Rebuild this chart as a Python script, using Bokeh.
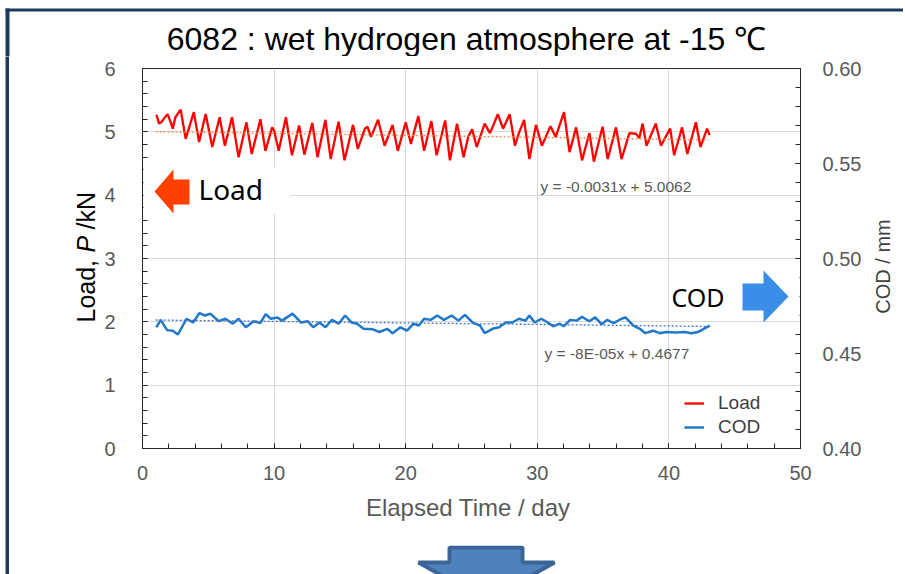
import math
from bokeh.plotting import figure
from bokeh.layouts import column, row, Spacer
from bokeh.models import (Range1d, LinearAxis, FixedTicker, Label, BoxAnnotation,
                          PolyAnnotation, Legend, LegendItem, PrintfTickFormatter)
from bokeh.embed import file_html
from bokeh.resources import INLINE

# ---------------- data ----------------
load_day = [1.06, 1.26, 1.46, 1.6, 1.9, 2.15, 2.3, 2.5, 2.9, 3.28, 3.9, 4.3, 4.8, 5.3, 5.86,
            6.26, 6.8, 7.3, 7.9, 8.3, 8.96, 9.34, 9.85, 10.0, 10.35, 10.9, 11.36, 11.9, 12.3,
            12.9, 13.3, 13.9, 14.3, 14.9, 15.35, 16.0, 16.36, 16.9, 17.1, 17.37, 17.9, 18.4,
            19.0, 19.4, 20.0, 20.4, 20.96, 21.4, 21.95, 22.35, 23.0, 23.36, 23.9, 24.4, 24.75,
            25.05, 25.4, 26.0, 26.4, 26.65, 27.0, 27.4, 27.9, 28.3, 28.6, 29.0, 29.4, 29.9,
            30.35, 31.0, 31.4, 32.03, 32.45, 32.95, 33.4, 33.96, 34.3, 34.96, 35.35, 35.98,
            36.4, 37.0, 37.5, 37.75, 38.0, 38.3, 39.0, 39.4, 39.7, 40.1, 40.4, 41.0, 41.4,
            42.05, 42.4, 42.9, 43.1]
load_kn = [5.27, 5.13, 5.16, 5.2, 5.28, 5.15, 5.05, 5.23, 5.35, 4.89, 5.31, 4.84, 5.28, 4.76,
           5.23, 4.78, 5.23, 4.6, 5.15, 4.65, 5.2, 4.7, 5.07, 5.02, 4.7, 5.23, 4.63, 5.1, 4.64,
           5.14, 4.6, 5.19, 4.57, 5.16, 4.55, 5.11, 4.73, 5.05, 5.08, 4.92, 5.19, 4.78, 5.11,
           4.7, 5.15, 4.81, 5.25, 4.7, 5.17, 4.63, 5.18, 4.55, 5.13, 4.6, 4.92, 5.04, 4.76,
           5.13, 4.98, 5.1, 5.28, 5.05, 5.28, 4.78, 4.98, 5.19, 4.57, 5.11, 4.78, 5.09, 4.92,
           5.31, 4.68, 5.07, 4.55, 4.98, 4.53, 5.08, 4.57, 5.07, 4.57, 4.98, 4.97, 4.9, 5.13,
           4.78, 5.13, 4.78, 4.9, 5.05, 4.63, 5.07, 4.65, 5.15, 4.76, 5.05, 4.95]

cod_day = [1.05, 1.38, 1.87, 2.3, 2.69, 3.35, 3.84, 4.33, 4.75, 5.15, 5.8, 6.3, 6.86, 7.3, 7.85,
           8.45, 8.95, 9.36, 9.75, 10.25, 10.6, 11.4, 12.05, 12.55, 12.97, 13.45, 13.9, 14.4,
           14.9, 15.4, 15.9, 16.3, 16.8, 17.5, 18.0, 18.6, 19.0, 19.6, 20.1, 20.6, 21.0, 21.4,
           21.9, 22.4, 22.9, 23.5, 24.0, 24.5, 25.1, 25.65, 26.0, 26.6, 27.1, 27.6, 28.1, 28.6,
           29.1, 29.4, 29.8, 30.3, 30.8, 31.2, 31.7, 32.0, 32.5, 33.0, 33.4, 33.95, 34.4, 34.9,
           35.3, 35.8, 36.4, 36.7, 37.3, 37.8, 38.2, 38.8, 39.3, 39.8, 40.5, 41.2, 41.7, 42.2,
           42.75, 43.1]
cod_mm = [0.4638, 0.4677, 0.4623, 0.4620, 0.4600, 0.4683, 0.4663, 0.4713, 0.4700, 0.4710,
          0.4670, 0.4683, 0.4657, 0.4683, 0.4638, 0.4670, 0.4660, 0.4707, 0.4683, 0.4690,
          0.4673, 0.4710, 0.4663, 0.4670, 0.4638, 0.4663, 0.4638, 0.4677, 0.4657, 0.4700,
          0.4663, 0.4657, 0.4630, 0.4627, 0.4613, 0.4630, 0.4607, 0.4638, 0.4620, 0.4657,
          0.4647, 0.4683, 0.4677, 0.4700, 0.4677, 0.4700, 0.4673, 0.4703, 0.4663, 0.4647,
          0.4607, 0.4630, 0.4638, 0.4663, 0.4663, 0.4683, 0.4673, 0.4700, 0.4663, 0.4683,
          0.4663, 0.4643, 0.4657, 0.4643, 0.4677, 0.4673, 0.4693, 0.4670, 0.4690, 0.4653,
          0.4677, 0.4660, 0.4683, 0.4690, 0.4647, 0.4630, 0.4607, 0.4620, 0.4607, 0.4613,
          0.4610, 0.4613, 0.4607, 0.4613, 0.4633, 0.4647]

# trend lines given on the chart: y = a*x + b
trend_span = [1.0, 43.0]
load_trend_a, load_trend_b = -0.0031, 5.0062
cod_trend_a, cod_trend_b = -8e-05, 0.4677

x_ticks = [0, 10, 20, 30, 40, 50]
x_minor = list(range(0, 51, 2))
y_ticks = [0, 1, 2, 3, 4, 5, 6]
y_minor = [round(i * 0.2, 1) for i in range(31)]
y2_ticks = [0.40, 0.45, 0.50, 0.55, 0.60]
y2_minor = [round(0.40 + i * 0.01, 2) for i in range(21)]

TITLE = "6082 : wet hydrogen atmosphere at -15 \u2103"
FONT = "Liberation Sans"
GRAY = "#595959"
NAVY = "#1B3A5C"

# ---- page geometry ----
MX, MY = 5, 8          # white margin left / top of the slide frame
BL, BT = 4, 3          # navy border widths (left, top)
OX = MX + BL           # content x origin on the page (9)
CW = 894               # content width
TOPH = 56              # top strip (navy bar + title), page y 0..56
WL, WR = 92, 37        # left / right axis-title strips
WM = CW - WL - WR      # main figure width
HB = 29                # bottom strip (down arrow)
HM = 574 - TOPH - HB   # main figure height (page y 56..545)
TOTW = MX + BL + CW

def bare(width, height, fill="white"):
    f = figure(width=width, height=height, output_backend="svg", toolbar_location=None,
               title=None, x_axis_type=None, y_axis_type=None, min_border=0,
               x_range=Range1d(0, 1), y_range=Range1d(0, 1))
    f.grid.visible = False
    f.outline_line_color = None
    f.background_fill_color = fill
    f.border_fill_color = fill
    return f

def cbox(l, r, t, b, color):
    return BoxAnnotation(left=l, right=r, top=t, bottom=b,
                         left_units="canvas", right_units="canvas",
                         top_units="canvas", bottom_units="canvas",
                         fill_color=color, fill_alpha=1, line_color=None)

def lab(fig, ox, oy, text, x, y, size, color="black", align="left", font=FONT,
        angle=0.0, style="normal"):
    fig.add_layout(Label(x=x - ox, y=y - oy, x_units="canvas", y_units="canvas", text=text,
                         text_font=font, text_font_size=size, text_color=color,
                         text_align=align, text_baseline="middle", angle=angle,
                         text_font_style=style))

# ---- top strip: navy slide border + chart title ----
top = bare(TOTW, TOPH)
top.add_layout(cbox(MX, TOTW, MY, MY + BT, NAVY))
top.add_layout(cbox(MX, MX + BL, MY, TOPH, NAVY))
lab(top, 0, 0, TITLE, 466, 38, "32px", align="center")

# ---- main chart ----
p = figure(width=WM, height=HM, output_backend="svg", toolbar_location=None, title=None,
           x_range=Range1d(0, 50), y_range=Range1d(0, 6),
           min_border_left=140 - OX - WL, min_border_right=(OX + WL + WM) - 800,
           min_border_top=68 - TOPH, min_border_bottom=(TOPH + HM) - 448)
p.extra_y_ranges = {"cod": Range1d(0.40, 0.60)}
p.background_fill_color = "white"
p.border_fill_color = "white"
p.outline_line_color = "#262626"
p.outline_line_width = 1

xa = p.xaxis[0]
xa.ticker = FixedTicker(ticks=x_ticks, minor_ticks=x_minor)
ya = p.yaxis[0]
ya.ticker = FixedTicker(ticks=y_ticks, minor_ticks=y_minor)
ra = LinearAxis(y_range_name="cod",
                ticker=FixedTicker(ticks=y2_ticks, minor_ticks=y2_minor),
                formatter=PrintfTickFormatter(format="%.2f"))
p.add_layout(ra, "right")

for ax in (xa, ya, ra):
    ax.axis_line_color = "#262626"
    ax.major_tick_in = 5
    ax.major_tick_out = 0
    ax.minor_tick_in = 5
    ax.minor_tick_out = 0
    ax.major_tick_line_color = "#262626"
    ax.minor_tick_line_color = "#262626"
    ax.major_label_text_font = FONT
    ax.major_label_text_font_size = "20px"
    ax.major_label_text_color = GRAY
    ax.axis_label_text_font = FONT
    ax.axis_label_text_font_style = "normal"

xa.major_label_standoff = 17
xa.axis_label = "Elapsed Time  / day"
xa.axis_label_text_font_size = "24px"
xa.axis_label_text_color = GRAY
xa.axis_label_standoff = 11
ya.major_label_standoff = 27
ra.major_label_standoff = 22

p.xgrid.ticker = FixedTicker(ticks=[10, 20, 30, 40])
p.ygrid.ticker = FixedTicker(ticks=[1, 2, 3, 4, 5])
p.xgrid.grid_line_color = "#D9D9D9"
p.ygrid.grid_line_color = "#D9D9D9"

r_load = p.line(load_day, load_kn, line_color="#FF0000", line_width=2.3)
r_cod = p.line(cod_day, cod_mm, y_range_name="cod", line_color="#1F78C8", line_width=2.5)
p.line(trend_span, [load_trend_a * x + load_trend_b for x in trend_span],
       line_color="#F08A4B", line_width=1.3, line_dash="2 2")
p.line(trend_span, [cod_trend_a * x + cod_trend_b for x in trend_span],
       y_range_name="cod", line_color="#4472C4", line_width=1.3, line_dash="2 2")

# canvas of the main figure starts at page (CX, CY)
CX, CY = OX + WL, TOPH

def cpoly(xs, ys, color):
    return PolyAnnotation(xs=[x - CX for x in xs], ys=[y - CY for y in ys],
                          xs_units="canvas", ys_units="canvas",
                          fill_color=color, fill_alpha=1, line_color=None)

p.add_layout(cbox(143 - CX, 290 - CX, 167 - CY, 213 - CY, "white"))
p.add_layout(cbox(673 - CX, 799 - CX, 262 - CY, 316 - CY, "white"))
p.add_layout(cpoly([154, 173, 173, 189, 189, 173, 173],
                   [191, 169, 179, 179, 204, 204, 213], "#FF4000"))
p.add_layout(cpoly([742, 763, 763, 788, 763, 763, 742],
                   [283, 283, 270, 296, 322, 310, 310], "#3A8EE8"))

lab(p, CX, CY, "Load", 198, 188, "28px", font="Noto Sans")
lab(p, CX, CY, "COD", 671, 296, "25px", font="Noto Sans")
lab(p, CX, CY, "y = -0.0031x + 5.0062", 540, 186, "15.5px", color=GRAY)
lab(p, CX, CY, "y = -8E-05x + 0.4677", 544, 353, "15.5px", color=GRAY)

legend = Legend(items=[LegendItem(label="Load", renderers=[r_load]),
                       LegendItem(label="COD", renderers=[r_cod])],
                location=(542, 10))
legend.background_fill_color = "white"
legend.background_fill_alpha = 1
legend.border_line_color = None
legend.label_text_font = FONT
legend.label_text_font_size = "19px"
legend.label_text_color = "#404040"
legend.glyph_width = 20
legend.glyph_height = 20
legend.label_height = 20
legend.spacing = 2
legend.padding = 5
legend.margin = 0
legend.label_standoff = 14
p.add_layout(legend)

# ---- left strip: y-axis title "Load, P /kN" (italic P) ----
pL = bare(WL, HM)
ylab_parts = ["Load,", "P", "/kN"]
ylab_start = [322, 252, 229]          # page y where each part begins (reading upward)
ylab_style = ["normal", "italic", "normal"]
for t, y0, st in zip(ylab_parts, ylab_start, ylab_style):
    lab(pL, OX, TOPH, t, 85, y0, "25px", angle=math.pi / 2, style=st)

# ---- right strip: secondary axis title ----
RX = OX + WL + WM
pR = bare(WR, HM)
lab(pR, RX, TOPH, "COD / mm", 882, 266, "20px", color="#404040", align="center",
    angle=math.pi / 2)

# ---- bottom strip with the slide's down arrow (page coordinates) ----
arrow_x = [449, 522, 522, 554, 486, 418, 449]
arrow_y = [547, 547, 562, 562, 600, 562, 562]
p2 = figure(width=CW, height=HB, output_backend="svg", toolbar_location=None, title=None,
            x_range=Range1d(OX, OX + CW), y_range=Range1d(574, TOPH + HM),
            x_axis_type=None, y_axis_type=None, min_border=0)
p2.grid.visible = False
p2.outline_line_color = None
p2.background_fill_color = "white"
p2.border_fill_color = "white"
p2.patch(arrow_x, arrow_y, fill_color="#4F81BD", line_color="#3B6596", line_width=4)

# ---- navy left border below the top strip ----
left_bar = bare(BL, HM + HB, fill=NAVY)

content = column(row(pL, p, pR, spacing=0), p2, spacing=0)
layout = column(top,
                row(Spacer(width=MX, height=HM + HB), left_bar, content, spacing=0),
                spacing=0)

open("out.html", "w").write(file_html(layout, INLINE))
